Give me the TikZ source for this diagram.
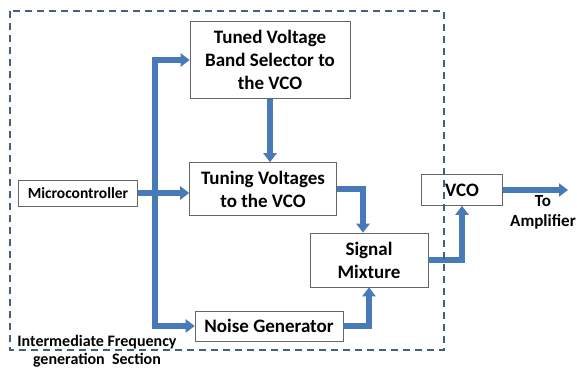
\documentclass[tikz,border=0pt]{standalone}
\usepackage{fontspec}
\setmainfont{Carlito}
\usetikzlibrary{arrows.meta}
\definecolor{flowblue}{RGB}{72,122,184}
\definecolor{edgegray}{RGB}{70,96,124}
\tikzset{every node/.append style={font=\bfseries}}
\tikzset{
  blk/.style={draw=black!60, line width=0.6pt, fill=white, align=center, inner sep=0pt,
    font=\bfseries\fontsize{19}{23}\selectfont},
  flow/.style={draw=flowblue, line width=5.5pt, -{Triangle[length=9pt,width=13pt]}},
}

\begin{document}
\begin{tikzpicture}[x=1pt, y=-1pt]
    \useasboundingbox (0,0) rectangle (577,368);
    % blocks
    \node[blk, minimum width=160, minimum height=77] (tuned) at (270,60)
        {Tuned Voltage\\Band Selector to\\the VCO};
    \node[blk, minimum width=147, minimum height=53] (tuning) at (263,189)
        {Tuning Voltages\\to the VCO};
    \node[blk, minimum width=119, minimum height=26, font=\bfseries\fontsize{15.5}{18}\selectfont] (micro) at (78,193)
        {Microcontroller};
    \node[blk, minimum width=148, minimum height=30] (noise) at (269,326)
        {Noise Generator};
    \node[blk, minimum width=118, minimum height=54] (mix) at (369,260)
        {Signal\\Mixture};
    \node[blk, minimum width=81, minimum height=31] (vco) at (462,190)
        {VCO};
    \node[font=\bfseries\fontsize{17}{20}\selectfont, align=center] (amp) at (543,212) {To\\Amplifier};
    \coordinate (trunk) at (155,193);
    \coordinate (out) at (568,190);
    % connectors
    \draw[flow] (micro.east) -- (micro.east -| tuning.west);
    \draw[flow, -] (trunk) -- (trunk |- noise.west);
    \draw[flow] (trunk) |- (tuned.west);
    \draw[flow] (trunk) |- (noise.west);
    \draw[flow] (tuned.south) -- (tuned.south |- tuning.north);
    \draw[flow] (tuning.east) -| ([xshift=-6pt]mix.north);
    \draw[flow] (noise.east) -| (mix.south);
    \draw[flow] (mix.east) -| (vco.south);
    \draw[flow] (vco.east) -- (out);
    % section frame
    \draw[edgegray, line width=1.4pt, dash pattern=on 7pt off 5pt] (10,11) rectangle (444,350);
    \node[font=\bfseries\fontsize{16}{18}\selectfont, align=center] (lbl) at (97,351)
        {Intermediate Frequency\\generation\ \ Section};
\end{tikzpicture}
\end{document}
